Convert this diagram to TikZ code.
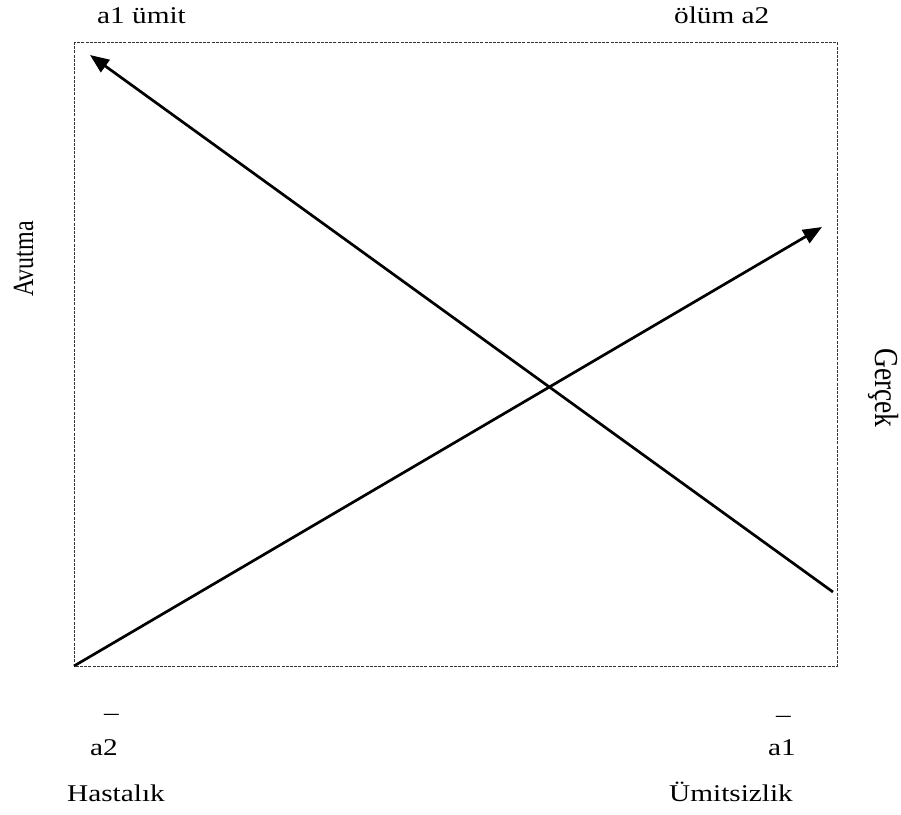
\documentclass[tikz,border=0pt]{standalone}
\usepackage{fontspec}
\setmainfont{Liberation Serif}
\usetikzlibrary{arrows.meta}

% text of the scan is a little wider than high
\newcommand{\widetxt}[1]{\scalebox{1.22}[1]{#1}}

\tikzset{
  frame/.style={draw=black!80, line width=1pt, dash pattern=on 3pt off 1.2pt},
  axis/.style={line width=2.7pt, -{Triangle[length=19pt,width=15pt]}},
  lbl/.style={inner sep=0pt, anchor=base west, font=\fontsize{24}{28}\selectfont},
}

\begin{document}
\begin{tikzpicture}[x=1pt, y=-1pt]
  \useasboundingbox (0,0) rectangle (901,814);

  % --- frame ---
  \coordinate (tl) at (74,42);
  \coordinate (br) at (837,666);
  \coordinate (bl) at (74,666);
  \draw[frame] (tl) rectangle (br);

  % --- two crossing arrows ---
  \coordinate (from1) at (833,592);
  \coordinate (to1) at (90,55);
  \coordinate (to2) at (822,227);
  \draw[axis] (from1) -- (to1);
  \draw[axis] (bl) -- (to2);

  % --- labels on top ---
  \node[lbl] (hope) at (97,23) {\widetxt{a1 ümit}};
  \node[lbl] (death) at (674,23) {\widetxt{ölüm a2}};

  % --- side labels ---
  \node[lbl, rotate=90] (comfort) at (33,297) {\scalebox{1}[1.22]{Avutma}};
  \node[lbl, rotate=-90, font=\fontsize{27.5}{30}\selectfont] (truth) at (875,348) {\scalebox{1}[1.22]{Gerçek}};

  % --- labels below ---
  \node[lbl] (barL) at (104,720) {\widetxt{–}};
  \node[lbl] (a2) at (90,755) {\widetxt{a2}};
  \node[lbl] (ill) at (67,801.5) {\widetxt{Hastalık}};
  \node[lbl] (barR) at (776,722) {\widetxt{–}};
  \node[lbl] (a1) at (768,755) {\widetxt{a1}};
  \node[lbl] (despair) at (669,801.5) {\widetxt{Ümitsizlik}};

\end{tikzpicture}
\end{document}
